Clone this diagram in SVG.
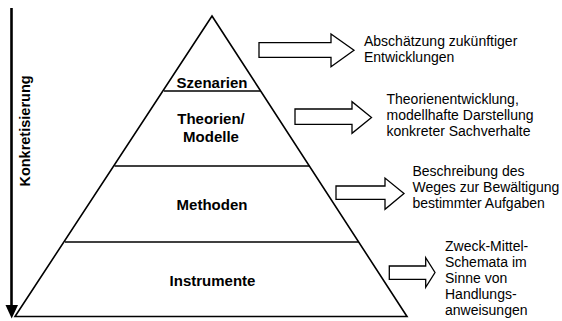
<svg xmlns="http://www.w3.org/2000/svg" width="562" height="321" viewBox="0 0 562 321">
<defs>
<style>
.lbl{font-family:"Liberation Sans",Arial,sans-serif;font-weight:bold;font-size:15px;fill:#000;text-anchor:middle}
.desc{font-family:"Liberation Sans",Arial,sans-serif;font-size:14px;fill:#000}
.edge{stroke:#000;stroke-width:1.6;fill:none}
.barrow{fill:#fff;stroke:#000;stroke-width:1.3;stroke-linejoin:miter}
</style>
</defs>
<rect width="562" height="321" fill="#fff"/>
<g id="axis">
<line x1="11.5" y1="8" x2="11.5" y2="306" stroke="#000" stroke-width="2.6"/>
<polygon points="5.5,305 18,305 11.7,318.5" fill="#000"/>
<text class="lbl" transform="translate(30,131) rotate(-90)" style="font-size:14.5px">Konkretisierung</text>
</g>
<g id="pyramid">
<polygon class="edge" points="212,16 407,316.5 15,316.5"/>
<line class="edge" x1="164" y1="91" x2="260.5" y2="91"/>
<line class="edge" x1="114.5" y1="166" x2="309.5" y2="166"/>
<line class="edge" x1="65" y1="242" x2="359" y2="242"/>
</g>
<g id="szenarien"><text class="lbl" x="212" y="88">Szenarien</text></g>
<g id="theorien"><text class="lbl" x="211" y="124">Theorien/</text><text class="lbl" x="211" y="142">Modelle</text></g>
<g id="methoden"><text class="lbl" x="212" y="210">Methoden</text></g>
<g id="instrumente"><text class="lbl" x="212.5" y="286">Instrumente</text></g>
<g id="connectors">
<polygon class="barrow" points="259,42.7 331,42.7 331,34 354,50.3 331,66.7 331,57.3 259,57.3"/>
<polygon class="barrow" points="295,109 352,109 352,101.7 371.5,117.5 352,133.3 352,124.3 295,124.3"/>
<polygon class="barrow" points="336,186 385,186 385,178 404,193.6 385,209.3 385,199.3 336,199.3"/>
<polygon class="barrow" points="389.3,266 425.7,266 425.7,257.7 435,272.5 425.7,287.3 425.7,279.3 389.3,279.3"/>
</g>
<g id="desc1"><text class="desc" x="364" y="46">Abschätzung zukünftiger</text><text class="desc" x="364" y="62">Entwicklungen</text></g>
<g id="desc2"><text class="desc" x="386.5" y="104">Theorienentwicklung,</text><text class="desc" x="386.5" y="120">modellhafte Darstellung</text><text class="desc" x="386.5" y="136">konkreter Sachverhalte</text></g>
<g id="desc3"><text class="desc" x="412.5" y="176">Beschreibung des</text><text class="desc" x="412.5" y="192">Weges zur Bewältigung</text><text class="desc" x="412.5" y="208">bestimmter Aufgaben</text></g>
<g id="desc4"><text class="desc" x="445" y="251">Zweck-Mittel-</text><text class="desc" x="445" y="267">Schemata im</text><text class="desc" x="445" y="283">Sinne von</text><text class="desc" x="445" y="299">Handlungs-</text><text class="desc" x="445" y="315">anweisungen</text></g>
</svg>
